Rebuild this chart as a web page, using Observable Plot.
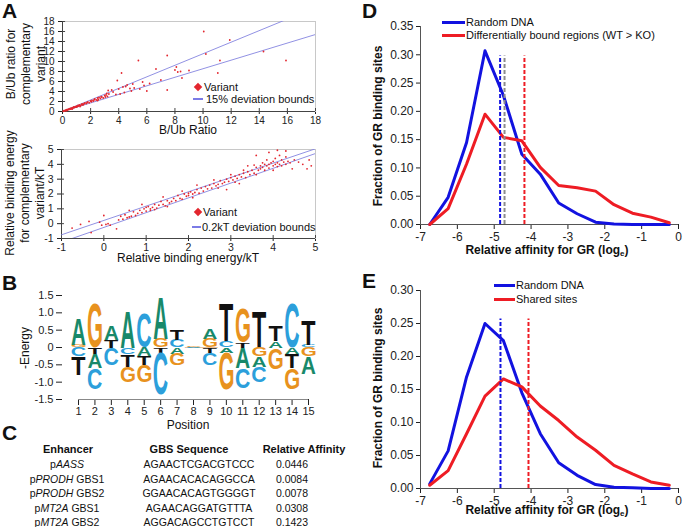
<!DOCTYPE html>
<html><head><meta charset="utf-8">
<script src="https://cdn.jsdelivr.net/npm/d3@7"></script>
<script src="https://cdn.jsdelivr.net/npm/@observablehq/plot@0.6"></script>
<style>
html,body{margin:0;padding:0;background:#fff;}
#root{position:relative;width:683px;height:527px;overflow:hidden;background:#fff;font-family:'Liberation Sans',Arial,Helvetica,sans-serif;color:#111;}
.abs{position:absolute;white-space:nowrap;}
.plabel{font-weight:bold;font-size:21px;line-height:1;}
.rot{transform:translate(-50%,-50%) rotate(-90deg);text-align:center;}
.ctr{transform:translate(-50%,-50%);text-align:center;}
.vmid{transform:translateY(-50%);}
sub{font-size:8px;vertical-align:-2px;line-height:0;}
</style></head><body><div id="root"></div><script>
// ---------- DATA ----------
// Panel A (top): B/Ub ratio pairs [variant, complementary variant]
const aTopPoints = [[0.05,0.05],[0.1,0.15],[0.15,0.1],[0.2,0.25],[0.25,0.2],[0.3,0.35],[0.35,0.3],[0.4,0.45],[0.45,0.4],[0.5,0.55],[0.55,0.5],[0.6,0.65],[0.65,0.6],[0.7,0.75],[0.75,0.7],[0.8,0.9],[0.85,0.8],[0.9,0.95],[0.95,0.9],[1.0,1.05],[1.05,1.0],[1.1,1.2],[1.15,1.1],[1.2,1.3],[1.3,1.2],[1.35,1.4],[1.4,1.5],[1.5,1.45],[1.55,1.6],[1.6,1.7],[1.7,1.6],[1.75,1.8],[1.8,1.9],[1.9,1.75],[2.0,2.1],[2.05,1.95],[2.1,2.2],[2.2,2.1],[2.3,2.5],[2.4,2.3],[2.5,2.7],[2.55,2.4],[2.6,2.8],[2.7,2.6],[2.8,2.9],[2.9,2.7],[3.0,3.2],[3.05,2.9],[3.1,3.3],[3.2,3.0],[3.3,3.5],[2.5,2.2],[1.25,1.0],[0.7,0.5],[3.15,3.6],[0.3,0.2],[0.6,0.5],[1.0,0.9],[1.45,1.3],[2.25,2.35],[2.75,2.95],
  [3.25,4.2],[3.9,6.2],[4.2,7.7],[5.4,10.2],[7.45,11.2],[10.05,16.0],[11.9,14.3],[10.2,11.5],[11.2,10.2],[11.05,7.7],[14.3,12.0],[15.9,10.2],[7.45,4.3],[6.65,8.5],[8.0,8.3],[8.2,7.9],[8.4,8.0],[8.1,8.9],[8.5,6.7],[9.0,8.2],[6.0,4.1],[5.7,5.9],[5.1,4.7],[4.5,5.0],[4.4,3.8],[4.6,5.3],[4.8,4.6],[4.0,4.5],[4.3,4.9],[3.6,3.9],[3.8,3.4],[5.0,5.5],[5.5,4.5],[4.9,4.1],[6.2,5.6],[7.0,6.3],[5.8,5.2],[3.5,4.3],[4.1,3.5]];
// Panel A (bottom): relative binding energy pairs
const aBotPoints = [[-0.75,-0.3],[-0.55,-0.05],[-0.35,0.15],[-0.3,-0.6],[-0.1,0.1],[-0.05,-0.1],[0,0.55],[0.05,-0.05],[0.1,0.0],[0.15,-0.1],[0.3,-0.35],[0.35,0.25],[0.4,0.5],[0.45,0.3],[0.5,0.6],[0.55,0.4],[0.6,0.45],[0.65,0.5],[0.7,0.8],[0.75,0.55],[0.8,0.7],[0.85,0.9],[0.9,0.75],[0.95,1.0],[1.0,1.1],[1.0,0.85],[1.05,1.15],[1.1,1.0],[1.1,0.9],[1.15,1.1],[1.2,1.3],[1.25,1.05],[1.3,1.25],[1.35,1.5],[1.4,1.3],[1.45,1.2],[1.5,1.55],[1.55,1.4],[1.6,1.5],[1.65,1.7],[1.7,1.55],[1.75,1.9],[1.8,1.7],[1.85,1.65],[1.9,2.0],[1.95,1.85],[2.0,2.05],[2.0,1.9],[2.05,2.15],[2.1,2.0],[2.15,2.1],[2.2,2.3],[2.25,2.05],[2.3,2.4],[2.35,2.2],[2.4,2.5],[2.45,2.35],[2.5,2.6],[2.55,2.4],[2.6,2.7],[2.65,2.55],[2.7,2.65],[2.75,2.9],[2.8,2.7],[2.85,2.8],[2.9,3.0],[2.95,2.85],[3.0,3.1],[3.0,3.3],[3.05,2.95],[3.1,3.2],[3.15,3.05],[3.2,3.3],[3.25,3.15],[3.3,3.4],[3.35,3.1],[3.4,3.5],[3.45,3.3],[3.5,3.6],[3.55,3.4],[3.6,3.8],[3.65,3.6],[3.7,3.9],[3.7,3.7],[3.75,4.1],[3.75,3.8],[3.8,4.0],[3.8,3.6],[3.85,3.9],[3.85,4.3],[3.9,4.0],[3.9,3.75],[3.95,4.1],[4.0,3.9],[4.0,4.2],[4.05,4.0],[4.05,4.4],[4.1,3.85],[4.1,4.1],[4.15,4.0],[4.2,4.3],[4.2,3.9],[4.25,4.15],[4.3,4.0],[4.3,4.5],[4.35,4.2],[4.4,4.1],[4.5,4.3],[4.6,4.15],[4.7,4.0],[4.8,3.7],[4.85,4.3],[4.9,3.9],[3.6,4.6],[3.9,4.8],[4.1,4.95],[4.3,4.9],[3.2,2.7],[2.9,2.3],[3.4,3.9],[2.2,2.6],[1.4,1.8],[0.9,1.3],[3.55,3.95],[4.15,4.6],[3.3,3.6],[2.6,2.95],[1.85,2.2],[1.2,0.95],[0.6,0.9],[1.5,1.15],[2.1,1.75],[2.7,2.4],[3.1,2.8],[3.6,3.3],[4.0,3.6],[4.45,3.7]];
const ratioBoundX = [0, 18], ratioUpper = [0, 20.8], ratioLower = [0, 15.4];
const energyBoundX = [-1, 5], energyUpper = [-0.75, 5.05], energyLower = [-1.25, 4.73];
const ratioTicks = [0,2,4,6,8,10,12,14,16,18];
const energyTicks = [-1,0,1,2,3,4,5];

// Panel B: energy logo (signed heights, stacked outward from zero)
const logoPos    = [1,1,1,1, 2,2,2,2, 3,3,3, 4,4,4,4, 5,5,5,5, 6,6,6,6, 7,7,7,7, 8,8,8, 9,9,9,9, 10,10,10,10, 11,11,11,11, 12,12,12,12, 13,13,13, 14,14,14,14, 15,15,15,15];
const logoLetter = ["G","A","C","T", "G","T","A","C", "T","A","C", "A","C","T","G", "C","A","T","G", "G","A","T","C", "C","T","A","G", "A","G","C", "G","A","T","C", "C","T","A","G", "T","G","A","C", "T","G","A","C", "A","T","G", "C","A","T","G", "C","T","G","A"];
const logoHeight = [0.06,0.74,-0.26,-0.53, 1.28,-0.2,-0.4,-0.62, 0.22,0.42,-0.5, 1.03,-0.2,-0.35,-0.45, 1.0,-0.25,-0.25,-0.5, 0.25,1.18,-0.15,-1.2, 0.22,0.29,-0.2,-0.32, 0.02,0.02,-0.02, 0.25,0.3,-0.15,-0.35, 0.2,1.08,-0.15,-1.07, 0.15,1.0,-0.6,-0.58, 1.03,-0.25,-0.3,-0.45, 0.2,0.43,-0.62, 1.28,-0.2,-0.4,-0.6, 0.06,0.72,-0.25,-0.5];
const letterColors = {A: "#18896a", C: "#2c9fdb", G: "#e8921e", T: "#111111"};
const positionTicks = [1,2,3,4,5,6,7,8,9,10,11,12,13,14,15];
const logoTicks = [-1.5,-1,-0.5,0,0.5,1,1.5];

// Panel C: table
const enhPrefix = ["p","p","p","p","p"];
const enhGene = ["AASS","PRODH","PRODH","MT2A","MT2A"];
const enhSuffix = [""," GBS1"," GBS2"," GBS1"," GBS2"];
const gbsSeq = ["AGAACTCGACGTCCC","AGAACACACAGGCCA","GGAACACAGTGGGGT","AGAACAGGATGTTTA","AGGACAGCCTGTCCT"];
const relAffinity = ["0.0446","0.0084","0.0078","0.0308","0.1423"];

// Panels D & E: affinity distributions
const affinityBins = [-6.75,-6.25,-5.75,-5.25,-4.75,-4.25,-3.75,-3.25,-2.75,-2.25,-1.75,-1.25,-0.75,-0.25];
const dRandom = [0.000,0.048,0.145,0.307,0.228,0.124,0.089,0.038,0.019,0.004,0.001,0.000,0.000,0.000];
const dDiff   = [0.000,0.028,0.107,0.195,0.154,0.148,0.101,0.069,0.065,0.059,0.035,0.020,0.013,0.003];
const dMeanX = [-4.84, -4.72, -4.18];          // random, grey, differential
const dMeanTop = 0.298;
const eRandom = [0.007,0.057,0.169,0.250,0.224,0.145,0.083,0.039,0.020,0.006,0.002,0.001,0.000,0.000];
const eShared = [0.005,0.027,0.083,0.140,0.166,0.154,0.125,0.103,0.078,0.058,0.035,0.022,0.010,0.005];
const eMeanX = [-4.83, -4.07];
const eMeanTop = 0.257;
const affTicks = [-7,-6,-5,-4,-3,-2,-1,0];
const fracTicksD = [0,0.05,0.10,0.15,0.20,0.25,0.30,0.35];
const fracTicksE = [0,0.05,0.10,0.15,0.20,0.25,0.30];

// ---------- HELPERS ----------
const FONT = "'Liberation Sans', Arial, Helvetica, sans-serif";
const BLUE = "#1212e0", RED = "#ee1c24", GREY = "#8c8c8c";
const root = document.getElementById("root");
function addHTML(html, left, top, cls, extra) {
  const d = document.createElement("div");
  d.className = "abs " + (cls || "");
  d.style.left = left + "px"; d.style.top = top + "px";
  if (extra) Object.assign(d.style, extra);
  d.innerHTML = html; root.appendChild(d); return d;
}
function addPlot(svg, left, top) {
  svg.style.position = "absolute"; svg.style.left = left + "px"; svg.style.top = top + "px";
  svg.style.maxWidth = "none";
  root.appendChild(svg); return svg;
}
const baseStyle = fs => ({fontFamily: FONT, fontSize: fs, background: "transparent", overflow: "visible", color: "#222"});
const str = d => String(d);

// ---------- PANEL A (top) ----------
const aTopRows = aTopPoints.map(([x, y]) => ({x, y}));
const aTopBounds = [
  ...ratioBoundX.map((x, i) => ({k: "u", x, y: ratioUpper[i]})),
  ...ratioBoundX.map((x, i) => ({k: "l", x, y: ratioLower[i]}))
];
addPlot(Plot.plot({
  width: 340, height: 135, marginLeft: 62, marginRight: 25, marginTop: 21, marginBottom: 24,
  style: baseStyle("10px"),
  x: {domain: [0, 18], ticks: ratioTicks, tickFormat: str, tickSize: 3, tickPadding: 2, label: null},
  y: {domain: [0, 18], ticks: ratioTicks, tickFormat: str, tickSize: 4, tickPadding: 4, label: null},
  marks: [
    Plot.frame({stroke: "#c8c8c8"}),
    Plot.ruleY(ratioTicks, {x1: 0, x2: 0.22, stroke: "#444"}),
    Plot.ruleX(ratioTicks, {y1: 0, y2: 0.6, stroke: "#444"}),
    Plot.ruleX([0], {stroke: "#444"}),
    Plot.ruleY([0], {stroke: "#444"}),
    Plot.line(aTopBounds, {x: "x", y: "y", z: "k", stroke: "#8585e0", strokeWidth: 0.9, clip: true}),
    Plot.dot(aTopRows, {x: "x", y: "y", r: 0.9, fill: "#e3262e"})
  ]
}), 0, 0);

// ---------- PANEL A (bottom) ----------
const aBotRows = aBotPoints.map(([x, y]) => ({x, y}));
const aBotBounds = [
  ...energyBoundX.map((x, i) => ({k: "u", x, y: energyUpper[i]})),
  ...energyBoundX.map((x, i) => ({k: "l", x, y: energyLower[i]}))
];
addPlot(Plot.plot({
  width: 340, height: 135, marginLeft: 61, marginRight: 25, marginTop: 19, marginBottom: 27,
  style: baseStyle("10.5px"),
  x: {domain: [-1, 5], ticks: energyTicks, tickFormat: str, tickSize: 3, tickPadding: 2, label: null},
  y: {domain: [-1, 5], ticks: energyTicks, tickFormat: str, tickSize: 4, tickPadding: 4, label: null},
  marks: [
    Plot.frame({stroke: "#c8c8c8"}),
    Plot.ruleY(energyTicks, {x1: -1, x2: -0.93, stroke: "#444"}),
    Plot.ruleX(energyTicks, {y1: -1, y2: -0.8, stroke: "#444"}),
    Plot.ruleX([-1], {stroke: "#444"}),
    Plot.ruleY([-1], {stroke: "#444"}),
    Plot.line(aBotBounds, {x: "x", y: "y", z: "k", stroke: "#8585e0", strokeWidth: 0.9, clip: true}),
    Plot.dot(aBotRows, {x: "x", y: "y", r: 0.9, fill: "#e3262e"})
  ]
}), 0, 130);

// ---------- PANEL B (logo) ----------
const logoRows = [];
{
  const posSum = {}, negSum = {};
  logoPos.forEach((p, i) => {
    const h = logoHeight[i];
    let lo, hi;
    if (h >= 0) { lo = posSum[p] || 0; hi = lo + h; posSum[p] = hi; }
    else { hi = negSum[p] || 0; lo = hi + h; negSum[p] = lo; }
    logoRows.push({pos: p, letter: logoLetter[i], bottom: lo, top: hi, color: letterColors[logoLetter[i]]});
  });
}
const bPlot = Plot.plot({
  width: 340, height: 150, marginLeft: 62, marginRight: 30, marginTop: 25, marginBottom: 21,
  style: baseStyle("11px"),
  color: {type: "identity"},
  x: {domain: [1, 15], range: [78, 308], ticks: positionTicks, tickFormat: str, tickSize: 6, tickPadding: 2, label: null},
  y: {domain: [-1.5, 1.5], ticks: logoTicks, tickFormat: d => d === 0 ? "0" : d.toFixed(1), tickSize: 6, tickPadding: 3, label: null},
  marks: [
    Plot.ruleY([-1.5], {x1: 1, x2: 15, stroke: "#888"}),
    Plot.ruleY([0], {x1: 7.5, x2: 9.5, stroke: "#e0b080", strokeWidth: 0.8}),
    Plot.text(logoRows, {x: "pos", y: "bottom", text: "letter", fill: "color", fontSize: 100, fontWeight: "bold", textAnchor: "start"})
  ]
});
{
  const xs = bPlot.scale("x"), ys = bPlot.scale("y");
  const ctx = document.createElement("canvas").getContext("2d");
  ctx.font = "bold 100px 'Liberation Sans'";
  const LETTER_W = 14;
  const nodes = bPlot.querySelectorAll('g[aria-label="text"] text');
  nodes.forEach((node, i) => {
    const d = logoRows[i];
    if (!d) return;
    const m = ctx.measureText(d.letter);
    const gw = m.actualBoundingBoxLeft + m.actualBoundingBoxRight;
    const gh = m.actualBoundingBoxAscent + m.actualBoundingBoxDescent;
    const pb = ys.apply(d.bottom), pt = ys.apply(d.top);
    const sx = LETTER_W / gw, sy = Math.max(0.001, (pb - pt)) / gh;
    const px = xs.apply(d.pos) - (m.actualBoundingBoxRight - m.actualBoundingBoxLeft) / 2 * sx;
    const py = pb - m.actualBoundingBoxDescent * sy;
    node.setAttribute("transform", `translate(${px},${py}) scale(${sx},${sy})`);
    node.setAttribute("x", 0); node.setAttribute("y", 0); node.removeAttribute("dy");
    node.setAttribute("text-anchor", "start");
  });
}
addPlot(bPlot, 0, 270);

// ---------- PANEL D ----------
const dPlot = Plot.plot({
  width: 343, height: 265, marginLeft: 80, marginRight: 5, marginTop: 26, marginBottom: 41,
  style: baseStyle("12px"),
  x: {domain: [-7, 0], ticks: affTicks, tickFormat: str, tickSize: 5, tickPadding: 3, label: null},
  y: {domain: [0, 0.35], ticks: fracTicksD, tickFormat: d => d.toFixed(2), tickSize: 4, tickPadding: 3, label: null},
  marks: [
    Plot.ruleX([-7], {stroke: "#555"}),
    Plot.ruleY([0], {stroke: "#555"}),
    Plot.line(affinityBins.map((x, i) => ({x, y: dRandom[i]})), {x: "x", y: "y", stroke: BLUE, strokeWidth: 3}),
    Plot.line(affinityBins.map((x, i) => ({x, y: dDiff[i]})), {x: "x", y: "y", stroke: RED, strokeWidth: 3}),
    Plot.ruleX([{x: dMeanX[0], c: BLUE}, {x: dMeanX[1], c: GREY}, {x: dMeanX[2], c: RED}],
      {x: "x", y1: 0, y2: dMeanTop, stroke: d => d.c, strokeWidth: 2, strokeDasharray: "4,2"})
  ]
});
addPlot(dPlot, 340, 0);

// ---------- PANEL E ----------
const ePlot = Plot.plot({
  width: 343, height: 265, marginLeft: 80, marginRight: 5, marginTop: 28, marginBottom: 39,
  style: baseStyle("12px"),
  x: {domain: [-7, 0], ticks: affTicks, tickFormat: str, tickSize: 5, tickPadding: 3, label: null},
  y: {domain: [0, 0.30], ticks: fracTicksE, tickFormat: d => d.toFixed(2), tickSize: 4, tickPadding: 3, label: null},
  marks: [
    Plot.ruleX([-7], {stroke: "#555"}),
    Plot.ruleY([0], {stroke: "#555"}),
    Plot.line(affinityBins.map((x, i) => ({x, y: eRandom[i]})), {x: "x", y: "y", stroke: BLUE, strokeWidth: 3}),
    Plot.line(affinityBins.map((x, i) => ({x, y: eShared[i]})), {x: "x", y: "y", stroke: RED, strokeWidth: 3}),
    Plot.ruleX([{x: eMeanX[0], c: BLUE}, {x: eMeanX[1], c: RED}],
      {x: "x", y1: 0, y2: eMeanTop, stroke: d => d.c, strokeWidth: 2, strokeDasharray: "4,2"})
  ]
});
addPlot(ePlot, 340, 262);

// ---------- TEXT: panel labels, axis labels, legends ----------
addHTML("A", 2, 0, "plabel");
addHTML("B", 2, 272, "plabel");
addHTML("C", 2, 422, "plabel");
addHTML("D", 362, 0, "plabel");
addHTML("E", 362, 270, "plabel");

const lab12 = {fontSize: "12px", lineHeight: "15px"};
addHTML("B/Ub ratio for<br>complementary<br>variant", 26, 64, "rot", lab12);
addHTML("B/Ub Ratio", 188, 130, "ctr", lab12);
addHTML("Relative binding energy<br>for complementary<br>variant/kT", 25, 193, "rot", lab12);
addHTML("Relative binding energy/kT", 188, 258, "ctr", lab12);
addHTML("-Energy", 25, 348, "rot", lab12);
addHTML("Position", 188, 425, "ctr", lab12);

// A legends
const diamond = (cx, cy) => addHTML("", cx - 3, cy - 3, "", {width: "6px", height: "6px", background: "#e3262e", transform: "rotate(45deg)"});
const swatch = (x0, x1, cy, color, h) => addHTML("", x0, cy - h / 2, "", {width: (x1 - x0) + "px", height: h + "px", background: color});
const leg11 = {fontSize: "11px", lineHeight: "13px"};
diamond(198, 87); addHTML("Variant", 204, 87, "vmid", leg11);
swatch(193, 203, 99, "#7b7be6", 1.5); addHTML("15% deviation bounds", 206, 99, "vmid", leg11);
diamond(198, 212); addHTML("Variant", 203, 212, "vmid", leg11);
swatch(192, 201, 227, "#7b7be6", 1.5); addHTML("0.2kT deviation bounds", 202, 227, "vmid", leg11);

// D/E labels & legends
const labB = {fontSize: "12px", fontWeight: "bold", lineHeight: "15px"};
addHTML("Fraction of GR binding sites", 378, 126, "rot", labB);
addHTML("Relative affinity for GR (log<sub>e</sub>)", 547, 250, "ctr", labB);
addHTML("Fraction of GR binding sites", 378, 388, "rot", labB);
addHTML("Relative affinity for GR (log<sub>e</sub>)", 547, 510, "ctr", labB);
const legD = {fontSize: "11px", lineHeight: "13px"};
swatch(442, 465, 22, BLUE, 3); addHTML("Random DNA", 466, 22, "vmid", legD);
swatch(442, 465, 35, RED, 3); addHTML("Differentially bound regions (WT &gt; KO)", 466, 35, "vmid", legD);
swatch(494, 515, 285, BLUE, 3); addHTML("Random DNA", 516, 285, "vmid", legD);
swatch(494, 515, 299, RED, 3); addHTML("Shared sites", 516, 299, "vmid", legD);

// Panel C table
const th = {fontSize: "11px", fontWeight: "bold", lineHeight: "13px"};
addHTML("Enhancer", 68, 449, "ctr", th);
addHTML("GBS Sequence", 189, 449, "ctr", th);
addHTML("Relative Affinity", 304, 449, "ctr", th);
const td = {fontSize: "10.5px", lineHeight: "13px"};
const tdSeq = {fontSize: "10.5px", lineHeight: "13px", fontFamily: "'Liberation Sans Narrow', 'Arial Narrow', sans-serif"};
enhGene.forEach((g, i) => {
  const y = 464 + i * 14.5;
  addHTML(`${enhPrefix[i]}<i>${g}</i>${enhSuffix[i]}`, 67, y, "ctr", td);
  addHTML(gbsSeq[i], 199, y, "ctr", tdSeq);
  addHTML(relAffinity[i], 292, y, "ctr", td);
});
</script></body></html>
